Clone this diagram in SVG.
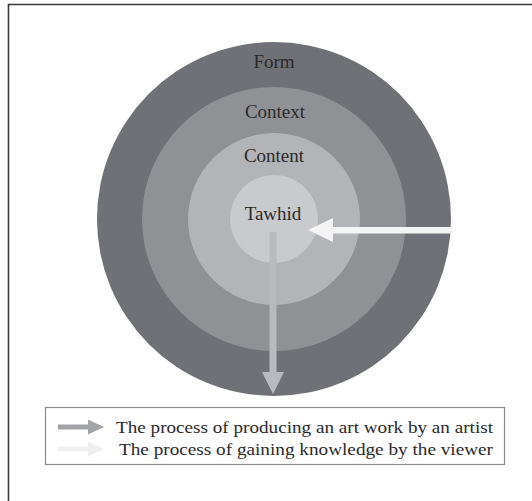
<svg xmlns="http://www.w3.org/2000/svg" width="532" height="501" viewBox="0 0 532 501">
  <style>
    .lbl { font-family: "Liberation Serif", "Times New Roman", serif; font-size: 19px; fill: #2a2a2a; text-anchor: middle; }
    .leg { font-family: "Liberation Serif", "Times New Roman", serif; font-size: 17.5px; fill: #2a2a2a; text-anchor: end; }
  </style>
  <rect width="532" height="501" fill="#ffffff"/>
  <!-- outer frame, open to the right and bottom -->
  <path d="M 8.5 501 L 8.5 4.5 L 532 4.5" fill="none" stroke="#3a3a3a" stroke-width="1.6"/>

  <g id="form">
    <circle cx="274" cy="219" r="177" fill="#707176"/>
    <text class="lbl" x="274" y="68">Form</text>
  </g>
  <g id="context">
    <circle cx="274" cy="219" r="132" fill="#909195"/>
    <text class="lbl" x="275" y="118">Context</text>
  </g>
  <g id="content">
    <circle cx="274" cy="219" r="86" fill="#b3b4b8"/>
    <text class="lbl" x="274" y="162">Content</text>
  </g>
  <g id="tawhid">
    <circle cx="274" cy="219" r="44" fill="#c9cacd"/>
    <text class="lbl" x="273" y="220">Tawhid</text>
  </g>

  <g id="connectors">
    <!-- viewer: from outside into the core -->
    <rect x="330" y="227" width="123" height="6.5" fill="#f4f4f4"/>
    <polygon points="308,230 333,218 333,242" fill="#f4f4f4"/>
    <!-- artist: from the core outward -->
    <rect x="269.5" y="232" width="7" height="141" fill="#b9babd"/>
    <polygon points="262,372 284,372 273,394" fill="#b9babd"/>
  </g>

  <g id="legend">
    <rect x="45.5" y="407.5" width="459" height="57" fill="#ffffff" stroke="#8a8a8a" stroke-width="1.2"/>
    <rect x="58" y="424.5" width="33" height="5" fill="#a3a4a7"/>
    <polygon points="88,419.5 104,427 88,434.5" fill="#a3a4a7"/>
    <text class="leg" x="493" y="433" textLength="377" lengthAdjust="spacingAndGlyphs">The process of producing an art work by an artist</text>
    <rect x="58" y="446.5" width="33" height="5" fill="#efefef"/>
    <polygon points="88,441.5 104,449 88,456.5" fill="#efefef"/>
    <text class="leg" x="493" y="455" textLength="374" lengthAdjust="spacingAndGlyphs">The process of gaining knowledge by the viewer</text>
  </g>
</svg>
